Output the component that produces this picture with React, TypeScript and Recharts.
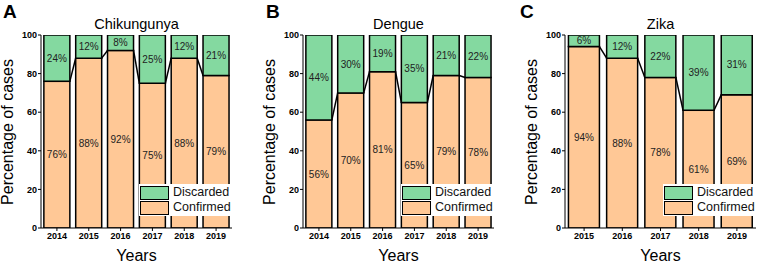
import { Bar, BarChart, LabelList, Legend, XAxis, YAxis } from 'recharts';

// Three stacked 100% bar panels, Origin-style: black outlines, connector
// lines between the tops of the confirmed segments, legend inside bottom right.

const chikYears = ['2014', '2015', '2016', '2017', '2018', '2019'];
const chikConfirmed = [76, 88, 92, 75, 88, 79];
const chikDiscarded = [24, 12, 8, 25, 12, 21];

const dengueYears = ['2014', '2015', '2016', '2017', '2018', '2019'];
const dengueConfirmed = [56, 70, 81, 65, 79, 78];
const dengueDiscarded = [44, 30, 19, 35, 21, 22];

const zikaYears = ['2015', '2016', '2017', '2018', '2019'];
const zikaConfirmed = [94, 88, 78, 61, 69];
const zikaDiscarded = [6, 12, 22, 39, 31];

const yTicks = [0, 20, 40, 60, 80, 100];

const GREEN = '#84d9a0';
const PEACH = '#ffc896';
const FONT = 'Arial, "Liberation Sans", sans-serif';

const H = 265;
const TOP = 35;
const PLOT_BOTTOM = 228;
const Y_AXIS_W = 41;
const PLOT_W = 191;

interface Row {
  year: string;
  confirmed: number;
  discarded: number;
}

function ConfirmedShape(props: any) {
  const { x, y, width, height, index, rows, band } = props;
  const row: Row = rows[index];
  const next: Row | undefined = rows[index + 1];
  const bottom = y + height;
  let connector = null;
  if (next && row.confirmed > 0) {
    const nextY = bottom - (height * next.confirmed) / row.confirmed;
    connector = (
      <line
        x1={x + width}
        y1={y}
        x2={x + band}
        y2={nextY}
        stroke="#000"
        strokeWidth={1.5}
      />
    );
  }
  return (
    <g>
      <rect x={x} y={y} width={width} height={height} fill={PEACH} stroke="#000" strokeWidth={1.5} />
      {connector}
    </g>
  );
}

function LegendBox() {
  const item = (colour: string, label: string) => (
    <div style={{ display: 'flex', alignItems: 'center', height: 15 }}>
      <div
        style={{
          width: 27,
          height: 12,
          background: colour,
          border: '1.5px solid #000',
          marginRight: 4,
        }}
      />
      <span style={{ fontSize: 12.5, color: '#111', fontFamily: FONT, lineHeight: '15px' }}>{label}</span>
    </div>
  );
  return (
    <div style={{ background: '#fff', padding: '1px 0 1px 1px', width: 91 }}>
      {item(GREEN, 'Discarded')}
      {item(PEACH, 'Confirmed')}
    </div>
  );
}

interface PanelProps {
  letter: string;
  letterLeft: number;
  title: string;
  years: string[];
  confirmed: number[];
  discarded: number[];
  left: number;
  plotLeft: number;
  width: number;
  gap: string;
}

function Panel({ letter, letterLeft, title, years, confirmed, discarded, left, plotLeft, width, gap }: PanelProps) {
  const rows: Row[] = years.map((year, i) => ({
    year,
    confirmed: confirmed[i],
    discarded: discarded[i],
  }));
  const band = PLOT_W / rows.length;
  const marginLeft = plotLeft - Y_AXIS_W;
  const marginRight = width - plotLeft - PLOT_W;
  const plotCentre = plotLeft + PLOT_W / 2;

  return (
    <div style={{ position: 'absolute', left, top: 0, width, height: H, fontFamily: FONT }}>
      <div
        style={{
          position: 'absolute',
          left: letterLeft,
          top: 2,
          fontSize: 19,
          lineHeight: '19px',
          fontWeight: 'bold',
        }}
      >
        {letter}
      </div>
      <div
        style={{
          position: 'absolute',
          left: plotCentre - 60,
          width: 120,
          top: 16,
          textAlign: 'center',
          fontSize: 14.5,
        }}
      >
        {title}
      </div>
      <div
        style={{
          position: 'absolute',
          left: plotLeft - 33 - 80,
          top: (TOP + PLOT_BOTTOM) / 2 - 10,
          width: 160,
          height: 20,
          lineHeight: '20px',
          textAlign: 'center',
          fontSize: 16,
          transform: 'rotate(-90deg)',
        }}
      >
        Percentage of cases
      </div>
      <div
        style={{
          position: 'absolute',
          left: plotCentre - 40,
          width: 80,
          top: 246,
          textAlign: 'center',
          fontSize: 16,
          lineHeight: '20px',
        }}
      >
        Years
      </div>
      <BarChart
        width={width}
        height={H}
        data={rows}
        margin={{ top: TOP, right: marginRight, bottom: H - PLOT_BOTTOM - 20, left: marginLeft }}
        barCategoryGap={gap}
        style={{ position: 'absolute', left: 0, top: 0 }}
      >
        <XAxis
          dataKey="year"
          height={20}
          tickLine={{ stroke: '#000' }}
          axisLine={{ stroke: '#000', strokeWidth: 1 }}
          tickSize={3}
          tick={{ fill: '#000', fontSize: 9, fontWeight: 'bold', fontFamily: FONT }}
          interval={0}
        />
        <YAxis
          width={Y_AXIS_W}
          domain={[0, 100]}
          ticks={yTicks}
          allowDataOverflow
          tickLine={{ stroke: '#000' }}
          axisLine={{ stroke: '#000', strokeWidth: 1 }}
          tickSize={3}
          tickMargin={1}
          tick={{ fill: '#000', fontSize: 9, fontWeight: 'bold', fontFamily: FONT }}
        />
        <Legend
          layout="horizontal"
          verticalAlign="middle"
          align="center"
          content={() => <LegendBox />}
          wrapperStyle={{
            position: 'absolute',
            left: plotLeft + PLOT_W - 93,
            top: 184,
            width: 92,
            height: 32,
          }}
        />
        <Bar
          dataKey="confirmed"
          stackId="a"
          fill={PEACH}
          isAnimationActive={false}
          shape={(p: any) => <ConfirmedShape {...p} rows={rows} band={band} />}
        >
          <LabelList
            dataKey="confirmed"
            position="center"
            formatter={(v: any) => `${v}%`}
            fill="#222"
            fontSize={10}
            fontFamily={FONT}
          />
        </Bar>
        <Bar
          dataKey="discarded"
          stackId="a"
          fill={GREEN}
          stroke="#000"
          strokeWidth={1.5}
          isAnimationActive={false}
        >
          <LabelList
            dataKey="discarded"
            position="center"
            formatter={(v: any) => `${v}%`}
            fill="#222"
            fontSize={10}
            fontFamily={FONT}
          />
        </Bar>
      </BarChart>
    </div>
  );
}

export default function App() {
  return (
    <div
      style={{
        position: 'fixed',
        left: 0,
        top: 0,
        width: 761,
        height: H,
        background: '#fff',
        overflow: 'hidden',
      }}
    >
      <Panel
        letter="A"
        letterLeft={3}
        title="Chikungunya"
        years={chikYears}
        confirmed={chikConfirmed}
        discarded={chikDiscarded}
        left={0}
        plotLeft={41}
        width={254}
        gap="9%"
      />
      <Panel
        letter="B"
        letterLeft={12}
        title="Dengue"
        years={dengueYears}
        confirmed={dengueConfirmed}
        discarded={dengueDiscarded}
        left={254}
        plotLeft={49}
        width={254}
        gap="9%"
      />
      <Panel
        letter="C"
        letterLeft={12}
        title="Zika"
        years={zikaYears}
        confirmed={zikaConfirmed}
        discarded={zikaDiscarded}
        left={508}
        plotLeft={57}
        width={253}
        gap="9%"
      />
    </div>
  );
}
